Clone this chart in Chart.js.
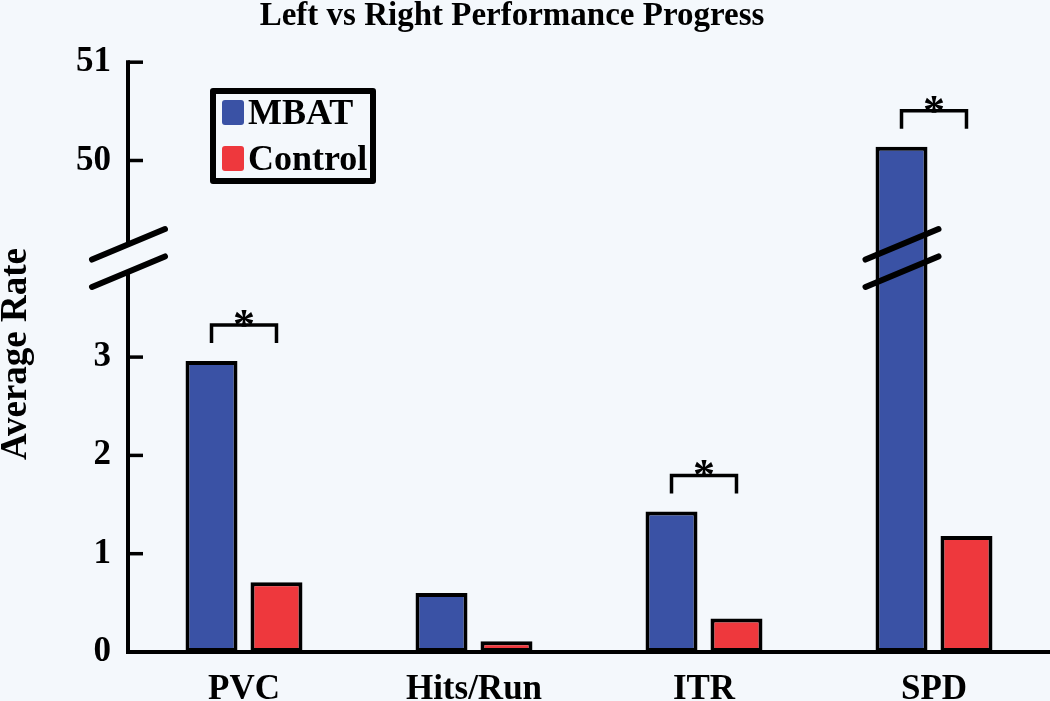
<!DOCTYPE html>
<html>
<head>
<meta charset="utf-8">
<script src="https://cdn.jsdelivr.net/npm/chart.js@4.4.1/dist/chart.umd.min.js"></script>
<style>
  html, body { margin: 0; padding: 0; background: #f4f8fc; }
  #wrap { width: 1050px; height: 701px; }
</style>
</head>
<body>
<div id="wrap"><canvas id="chart" width="1050" height="701"></canvas></div>
<script>
// --- Data ---
const categories = ['PVC', 'Hits/Run', 'ITR', 'SPD'];
const mbatValues = [2.96, 0.60, 1.43, 50.14];
const controlValues = [0.71, 0.11, 0.34, 1.18];
const significant = [true, false, true, true];
const tickValues = [0, 1, 2, 3, 50, 51];
const seriesNames = ['MBAT', 'Control'];

// broken axis: everything above the break is shifted down by this much
const breakShift = 45;
const breakLower = 3.866;
const breakUpper = 4.145;

const FONT = "'Liberation Serif', 'Times New Roman', serif";
const BLUE = '#3a52a5';
const RED = '#ee383d';

function toAxis(v) {
    return v > breakShift ? v - breakShift : v;
}
function fromAxis(v) {
    return v > breakUpper ? v + breakShift : v;
}

// --- Plugins ---
const backgroundPlugin = {
    id: 'background',
    beforeDraw(chart) {
        const ctx = chart.ctx;
        ctx.save();
        ctx.fillStyle = '#f4f8fc';
        ctx.fillRect(0, 0, chart.width, chart.height);
        ctx.fillStyle = '#000';
        ctx.font = `bold 33px ${FONT}`;
        ctx.textAlign = 'center';
        ctx.textBaseline = 'alphabetic';
        ctx.fillText('Left vs Right Performance Progress', 512, 25);
        ctx.restore();
    }
};

function slash(ctx, cx, cy) {
    ctx.beginPath();
    ctx.moveTo(cx - 36, cy + 15);
    ctx.lineTo(cx + 37, cy - 15.5);
    ctx.stroke();
}

const decorPlugin = {
    id: 'decor',
    afterDatasetsDraw(chart) {
        const ctx = chart.ctx;
        const y = chart.scales.y;
        const area = chart.chartArea;
        const axisX = area.left - 1;
        const base = y.getPixelForValue(0);
        const upY = y.getPixelForValue(breakUpper);
        const loY = y.getPixelForValue(breakLower);

        ctx.save();
        ctx.strokeStyle = '#000';
        ctx.lineCap = 'butt';

        // y axis line with a gap at the break
        ctx.lineWidth = 4;
        ctx.beginPath();
        ctx.moveTo(axisX, y.getPixelForValue(toAxis(51)) - 2);
        ctx.lineTo(axisX, upY);
        ctx.moveTo(axisX, loY);
        ctx.lineTo(axisX, base + 2);
        ctx.stroke();

        // tick marks pointing inward
        ctx.lineWidth = 3.5;
        tickValues.forEach(v => {
            if (v === 0) return;
            const py = y.getPixelForValue(toAxis(v));
            ctx.beginPath();
            ctx.moveTo(axisX, py);
            ctx.lineTo(axisX + 15, py);
            ctx.stroke();
        });

        // baseline
        ctx.lineWidth = 4;
        ctx.beginPath();
        ctx.moveTo(axisX - 2, base);
        ctx.lineTo(area.right + 1, base);
        ctx.stroke();

        // break marks on axis and on any bar crossing the break
        ctx.lineWidth = 6;
        ctx.lineCap = 'round';
        slash(ctx, axisX, upY);
        slash(ctx, axisX, loY);
        const mbatMeta = chart.getDatasetMeta(0);
        mbatValues.forEach((v, i) => {
            if (v > breakShift) {
                const bar = mbatMeta.data[i];
                slash(ctx, bar.x, upY);
                slash(ctx, bar.x, loY);
            }
        });

        // significance brackets
        const ctrlMeta = chart.getDatasetMeta(1);
        ctx.lineWidth = 3.5;
        ctx.lineCap = 'butt';
        significant.forEach((sig, i) => {
            if (!sig) return;
            const a = mbatMeta.data[i];
            const b = ctrlMeta.data[i];
            const top = Math.min(a.y, b.y);
            const legBottom = top - 18;
            const barY = legBottom - 18;
            ctx.beginPath();
            ctx.moveTo(a.x, legBottom);
            ctx.lineTo(a.x, barY);
            ctx.lineTo(b.x, barY);
            ctx.lineTo(b.x, legBottom);
            ctx.stroke();
            ctx.fillStyle = '#000';
            ctx.font = `bold 44px ${FONT}`;
            ctx.textAlign = 'center';
            ctx.textBaseline = 'alphabetic';
            ctx.fillText('*', (a.x + b.x) / 2, barY + 14);
        });

        // legend box
        ctx.lineWidth = 6;
        ctx.lineJoin = 'round';
        ctx.fillStyle = '#f4f8fc';
        ctx.fillRect(213, 91, 160, 90);
        ctx.strokeRect(213, 91, 160, 90);
        const swatches = [BLUE, RED];
        seriesNames.forEach((name, k) => {
            const sy = k === 0 ? 100 : 146;
            ctx.fillStyle = swatches[k];
            ctx.beginPath();
            ctx.roundRect(222, sy, 22, 25, 3);
            ctx.fill();
            ctx.fillStyle = '#000';
            ctx.font = `bold 36px ${FONT}`;
            ctx.textAlign = 'left';
            ctx.textBaseline = 'alphabetic';
            ctx.fillText(name, 248, sy + 24);
        });

        ctx.restore();
    }
};

// --- Chart ---
const ctx = document.getElementById('chart').getContext('2d');
new Chart(ctx, {
    type: 'bar',
    data: {
        labels: categories,
        datasets: [
            {
                label: seriesNames[0],
                data: mbatValues.map(toAxis),
                backgroundColor: BLUE,
                borderColor: '#000',
                borderWidth: 4,
                borderSkipped: false,
                categoryPercentage: 0.565,
                barPercentage: 0.8
            },
            {
                label: seriesNames[1],
                data: controlValues.map(toAxis),
                backgroundColor: RED,
                borderColor: '#000',
                borderWidth: 4,
                borderSkipped: false,
                categoryPercentage: 0.565,
                barPercentage: 0.8
            }
        ]
    },
    options: {
        responsive: false,
        animation: false,
        layout: { padding: { top: 56, left: 0, right: 1, bottom: 0 } },
        scales: {
            x: {
                grid: { display: false, drawTicks: false },
                border: { display: false },
                ticks: {
                    color: '#000',
                    font: { family: FONT, size: 35, weight: 'bold' },
                    padding: 17,
                    maxRotation: 0
                },
                afterFit: scale => { scale.height = 49; }
            },
            y: {
                min: 0,
                max: 6.063,
                grid: { display: false, drawTicks: false },
                border: { display: false },
                afterBuildTicks: scale => {
                    scale.ticks = tickValues.map(v => ({ value: toAxis(v) }));
                },
                ticks: {
                    color: '#000',
                    font: { family: FONT, size: 35, weight: 'bold' },
                    padding: 18,
                    callback: val => String(Math.round(fromAxis(val)))
                },
                title: {
                    display: true,
                    text: 'Average Rate',
                    color: '#000',
                    font: { family: FONT, size: 37, weight: 'bold', lineHeight: 0.8 },
                    padding: { top: 2, bottom: 0 }
                },
                afterFit: scale => { scale.width = 129; }
            }
        },
        plugins: {
            legend: { display: false },
            title: { display: false },
            tooltip: {
                callbacks: {
                    label: c => `${c.dataset.label}: ${(c.datasetIndex === 0 ? mbatValues : controlValues)[c.dataIndex]}`
                }
            }
        }
    },
    plugins: [backgroundPlugin, decorPlugin]
});
</script>
</body>
</html>
